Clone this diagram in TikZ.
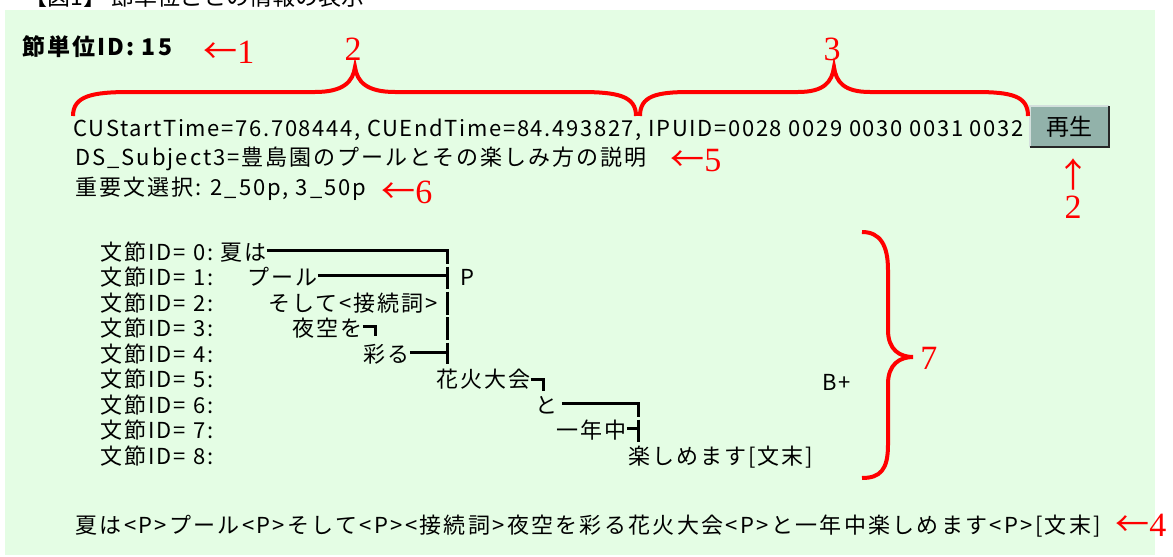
\documentclass[tikz,border=0pt]{standalone}
\usepackage{fontspec}
\setmainfont{Liberation Serif}
\newfontfamily\jp{Noto Sans CJK JP}[LetterSpace=9]
\newfontfamily\jpa{Noto Sans CJK JP}[LetterSpace=7.5]
\newfontfamily\jpb{Noto Sans CJK JP}[LetterSpace=10.5]
\newfontfamily\jpt{Noto Sans CJK JP}[LetterSpace=9]
\newfontfamily\jpc{Noto Sans CJK JP}
\definecolor{panel}{RGB}{228,253,228}
\definecolor{btn}{RGB}{146,178,170}
\definecolor{annred}{RGB}{255,0,0}
\newcommand\larr{{\jpc ←}}
\newcommand\uarr{{\jpc ↑}}
\begin{document}
\begin{tikzpicture}[x=0.5pt,y=-0.5pt,
  txt/.style={anchor=base west,inner sep=0pt,font=\jp\fontsize{11pt}{13pt}\selectfont},
  ann/.style={text=annred,inner sep=0pt,font=\fontsize{17pt}{20pt}\selectfont},
  treeline/.style={line width=1.5pt},
  redbrace/.style={draw=annred,line width=2pt}]
\useasboundingbox (0,0) rectangle (1173,557);
\clip (0,0) rectangle (1173,557);
\fill[panel] (5,10) rectangle (1155,555);
% cut caption
\node[anchor=base west,inner sep=0pt,font=\jpc\fontsize{11.5pt}{14pt}\selectfont] (cap) at (24,5) {【図1】 節単位ごとの情報の表示};
% title
\node[anchor=base west,inner sep=0pt,font=\jpt\bfseries\fontsize{11.5pt}{13pt}\selectfont] (title) at (22,55) {節単位ID: 15};
\node[ann,anchor=base west] (a1) at (203,63) {\larr1};
% info lines
\node[txt,font=\jpa\fontsize{11pt}{13pt}\selectfont] (l1) at (73,136) {CUStartTime=76.708444, CUEndTime=84.493827, IPUID=0028 0029 0030 0031 0032};
\node[txt] (l2) at (75,165) {DS\_Subject3=豊島園のプールとその楽しみ方の説明};
\node[txt] (l3) at (75,195) {重要文選択: 2\_50p, 3\_50p};
\node[ann,anchor=base west] (a5) at (670,171) {\larr5};
\node[ann,anchor=base west] (a6) at (381,203) {\larr6};
% button
\node[fill=btn,minimum width=39pt,minimum height=20pt,anchor=north west,inner sep=0pt,
  font=\jpc\fontsize{11.5pt}{13pt}\selectfont] (play) at (1030,106) {再生};
\draw[line width=1pt,draw=btn!40!white] (play.south west) -- (play.north west) -- (play.north east);
\draw[line width=1pt,draw=black!85] (play.north east) -- (play.south east) -- (play.south west);
\node[ann] (up) at (1073,174) {\uarr};
\node[ann,anchor=base] (b2b) at (1073,218) {2};
% braces 2 and 3
\node[ann,anchor=base] (b2) at (353,61) {2};
\node[ann,anchor=base] (b3) at (832,61) {3};
\coordinate (br2a) at (73,116);
\coordinate (br2b) at (636,116);
\coordinate (br3a) at (640,116);
\coordinate (br3b) at (1028,116);
\draw[redbrace] (br2a) .. controls (73,96) and (92,92) .. (130,92) -- (315,92)
  .. controls (343,92) and (353,82) .. (355,67) .. controls (357,82) and (367,92) .. (395,92)
  -- (580,92) .. controls (618,92) and (636,96) .. (br2b);
\draw[redbrace] (br3a) .. controls (640,96) and (656,92) .. (690,92) -- (798,92)
  .. controls (824,92) and (832,82) .. (834,67) .. controls (836,82) and (844,92) .. (870,92)
  -- (975,92) .. controls (1012,92) and (1028,96) .. (br3b);
% tree labels
\foreach \i in {0,...,8}{
  \node[txt] (lab\i) at (100,{260+25.5*\i}) {文節ID= \i:};
}
\node[txt] (w0) at (220,260) {夏は};
\node[txt] (w1) at (247,285.5) {プール};
\node[txt] (w2) at (268,311) {そして<接続詞>};
\node[txt] (w3) at (292,336.5) {夜空を};
\node[txt] (w4) at (363,362) {彩る};
\node[txt] (w5) at (436,387.5) {花火大会};
\node[txt] (w6) at (535,413) {と};
\node[txt] (w7) at (556,438.5) {一年中};
\node[txt] (w8) at (628,464) {楽しめます[文末]};
\node[txt] (p) at (460,285.5) {P};
\node[txt] (bplus) at (822,390) {B+};
% tree connectors
\coordinate (c0) at (447,250);
\coordinate (c1) at (447,275.5);
\coordinate (c4) at (447,352);
\coordinate (c3) at (375,326.5);
\coordinate (c5) at (543,379.5);
\coordinate (c6) at (638,403);
\coordinate (c7) at (638,428.5);
\draw[treeline] (w0.east |- c0) -- (c0) -- (447,264);
\draw[treeline] (w1.east |- c1) -- (c1);
\draw[treeline] (447,266.5) -- (447,289);
\draw[treeline] (447,291.5) -- (447,314.5);
\draw[treeline] (447,317) -- (447,340);
\draw[treeline] (447,342.5) -- (447,364);
\draw[treeline] (w4.east |- c4) -- (c4);
\draw[treeline] (w3.east |- c3) -- (c3) -- (375,336);
\draw[treeline] (w5.east |- c5) -- (c5) -- (543,391);
\draw[treeline] ([xshift=2pt]w6.east |- c6) -- (c6) -- (638,417);
\draw[treeline] (w7.east |- c7) -- (c7);
\draw[treeline] (638,419.5) -- (638,442);
% brace 7
\draw[redbrace] (862,232) .. controls (880,232) and (888,245) .. (888,270) -- (888,330)
  .. controls (888,350) and (900,357) .. (913,357) .. controls (900,357) and (888,364) .. (888,384)
  -- (888,445) .. controls (888,470) and (880,478) .. (862,478);
\node[ann,anchor=base west] (n7) at (920,369) {7};
% bottom line
\node[txt,font=\jpb\fontsize{11pt}{13pt}\selectfont] (l4) at (75,533) {夏は<P>プール<P>そして<P><接続詞>夜空を彩る花火大会<P>と一年中楽しめます<P>[文末]};
\node[ann,anchor=base west] (a4) at (1115,536) {\larr4};
\end{tikzpicture}
\end{document}
